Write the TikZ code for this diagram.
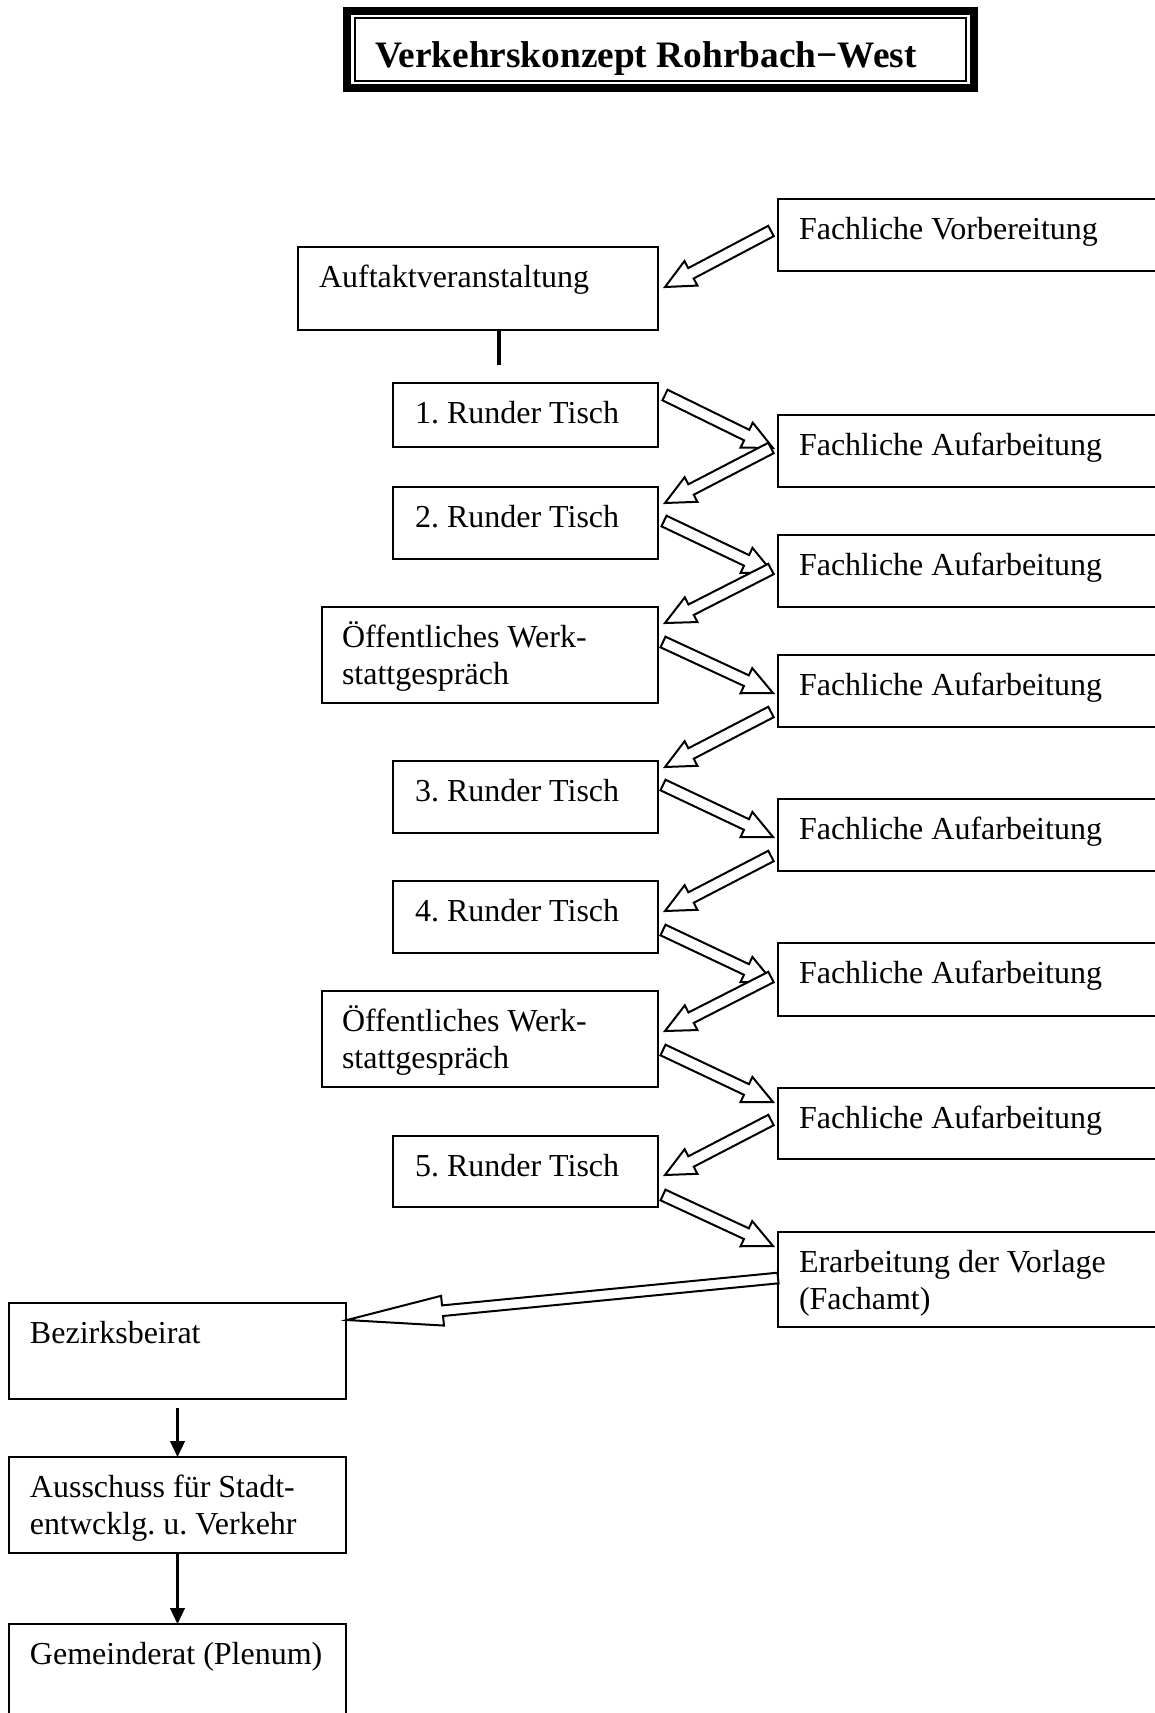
\documentclass[tikz,border=0pt]{standalone}
\usepackage{fontspec}
\setmainfont{Liberation Serif}
\usetikzlibrary{calc,fit,arrows.meta}
\frenchspacing
\tikzset{
  bx/.style={draw, line width=0.75pt, inner sep=0pt, outer sep=0pt, minimum size=0pt},
  tx/.style={inner sep=0pt, outer sep=0pt, anchor=base west, font=\fontsize{12pt}{13.8pt}\selectfont},
  blk/.style={draw, line width=0.75pt, fill=white, line join=miter},
  dn/.style={line width=0.9pt, -{Triangle[length=6pt,width=5.5pt]}},
  thickln/.style={line width=1.5pt},
}
\newcommand\mybox[5]{\node[bx, fit={(#2,#3) (#4,#5)}] (#1) {};}
% block arrow: tail, tip, half shaft, half head, head length
\newcommand\barrow[5]{%
  \coordinate (bh) at ($(#2)!#5!(#1)$);
  \draw[blk] ($(#1)!#3!90:(#2)$) -- ($(bh)!#3!-90:(#1)$) -- ($(bh)!#4!-90:(#1)$) -- (#2)
    -- ($(bh)!#4!90:(#1)$) -- ($(bh)!#3!90:(#1)$) -- ($(#1)!#3!-90:(#2)$) -- cycle;}
\begin{document}
\begin{tikzpicture}[x=0.375pt, y=-0.375pt]
\useasboundingbox (0,0) rectangle (1155,1713);
\clip (0,0) rectangle (1155,1713);

% title
\node[inner sep=0pt, outer sep=0pt, fit={(343,7) (978,92)}] (title) {};
\draw[line width=3pt] ($(title.north west)+(4,4)$) rectangle ($(title.south east)+(-4,-4)$);
\draw[line width=0.75pt] ($(title.north west)+(12,11)$) rectangle ($(title.south east)+(-12,-11)$);
\node[tx, font=\fontsize{14pt}{16pt}\selectfont\bfseries] (titlet) at ($(title.north west)+(32,60)$) {Verkehrskonzept Rohrbach−West};

% boxes
\mybox{fv}{778}{199}{1170}{271}
\mybox{auf}{298}{247}{658}{330}
\mybox{rt1}{393}{383}{658}{447}
\mybox{fa1}{778}{415}{1170}{487}
\mybox{rt2}{393}{487}{658}{559}
\mybox{fa2}{778}{535}{1170}{607}
\mybox{ow1}{322}{607}{658}{703}
\mybox{fa3}{778}{655}{1170}{727}
\mybox{rt3}{393}{761}{658}{833}
\mybox{fa4}{778}{799}{1170}{871}
\mybox{rt4}{393}{881}{658}{953}
\mybox{fa5}{778}{943}{1170}{1016}
\mybox{ow2}{322}{991}{658}{1087}
\mybox{fa6}{778}{1088}{1170}{1159}
\mybox{rt5}{393}{1136}{658}{1207}
\mybox{er}{778}{1232}{1170}{1327}
\mybox{bez}{9}{1303}{346}{1399}
\mybox{aus}{9}{1457}{346}{1553}
\mybox{gem}{9}{1624}{346}{1730}

% texts
\node[tx] (fvt) at ($(fv.north west)+(21,40)$) {Fachliche Vorbereitung};
\node[tx] (auft) at ($(auf.north west)+(21,40)$) {Auftaktveranstaltung};
\node[tx] (rt1t) at ($(rt1.north west)+(22,40)$) {1. Runder Tisch};
\node[tx] (fa1t) at ($(fa1.north west)+(21,40)$) {Fachliche Aufarbeitung};
\node[tx] (rt2t) at ($(rt2.north west)+(22,40)$) {2. Runder Tisch};
\node[tx] (fa2t) at ($(fa2.north west)+(21,40)$) {Fachliche Aufarbeitung};
\node[tx] (ow1a) at ($(ow1.north west)+(20,40)$) {Öffentliches Werk-};
\node[tx] (ow1b) at ($(ow1.north west)+(20,77)$) {stattgespräch};
\node[tx] (fa3t) at ($(fa3.north west)+(21,40)$) {Fachliche Aufarbeitung};
\node[tx] (rt3t) at ($(rt3.north west)+(22,40)$) {3. Runder Tisch};
\node[tx] (fa4t) at ($(fa4.north west)+(21,40)$) {Fachliche Aufarbeitung};
\node[tx] (rt4t) at ($(rt4.north west)+(22,40)$) {4. Runder Tisch};
\node[tx] (fa5t) at ($(fa5.north west)+(21,40)$) {Fachliche Aufarbeitung};
\node[tx] (ow2a) at ($(ow2.north west)+(20,40)$) {Öffentliches Werk-};
\node[tx] (ow2b) at ($(ow2.north west)+(20,77)$) {stattgespräch};
\node[tx] (fa6t) at ($(fa6.north west)+(21,40)$) {Fachliche Aufarbeitung};
\node[tx] (rt5t) at ($(rt5.north west)+(22,40)$) {5. Runder Tisch};
\node[tx] (era) at ($(er.north west)+(21,40)$) {Erarbeitung der Vorlage};
\node[tx] (erb) at ($(er.north west)+(21,77)$) {(Fachamt)};
\node[tx] (bezt) at ($(bez.north west)+(21,40)$) {Bezirksbeirat};
\node[tx] (ausa) at ($(aus.north west)+(21,40)$) {Ausschuss für Stadt-};
\node[tx] (ausb) at ($(aus.north west)+(21,77)$) {entwcklg. u. Verkehr};
\node[tx] (gemt) at ($(gem.north west)+(21,40)$) {Gemeinderat (Plenum)};

% short thick line below Auftakt
\coordinate (tl1) at ($(auf.south)+(21,0)$);
\coordinate (tl2) at ($(auf.south)+(21,35)$);
\draw[thickln] (tl1) -- (tl2);

% block arrow end points
\coordinate (a1s) at ($(fv.north west)+(-7,32)$);  \coordinate (a1e) at ($(auf.north east)+(7,40)$);
\coordinate (a2s) at ($(rt1.north east)+(7,12)$);  \coordinate (a2e) at ($(fa1.north west)+(-5,33)$);
\coordinate (a3s) at ($(fa1.north west)+(-7,33)$); \coordinate (a3e) at ($(rt2.north east)+(7,16)$);
\coordinate (a4s) at ($(rt2.north east)+(6,34)$);  \coordinate (a4e) at ($(fa2.north west)+(-5,38)$);
\coordinate (a5s) at ($(fa2.north west)+(-7,34)$); \coordinate (a5e) at ($(ow1.north east)+(7,16)$);
\coordinate (a6s) at ($(ow1.north east)+(5,35)$);  \coordinate (a6e) at ($(fa3.north west)+(-5,38)$);
\coordinate (a7s) at ($(fa3.north west)+(-7,57)$); \coordinate (a7e) at ($(rt3.north east)+(7,6)$);
\coordinate (a8s) at ($(rt3.north east)+(5,24)$);  \coordinate (a8e) at ($(fa4.north west)+(-5,38)$);
\coordinate (a9s) at ($(fa4.north west)+(-7,57)$); \coordinate (a9e) at ($(rt4.north east)+(7,30)$);
\coordinate (a10s) at ($(rt4.north east)+(5,49)$); \coordinate (a10e) at ($(fa5.north west)+(-5,39)$);
\coordinate (a11s) at ($(fa5.north west)+(-7,34)$); \coordinate (a11e) at ($(ow2.north east)+(7,40)$);
\coordinate (a12s) at ($(ow2.north east)+(5,59)$); \coordinate (a12e) at ($(fa6.north west)+(-5,14)$);
\coordinate (a13s) at ($(fa6.north west)+(-7,32)$); \coordinate (a13e) at ($(rt5.north east)+(7,39)$);
\coordinate (a14s) at ($(rt5.north east)+(5,59)$); \coordinate (a14e) at ($(er.north west)+(-5,14)$);
\coordinate (a15s) at ($(er.north west)+(0,46)$);  \coordinate (a15e) at ($(bez.north east)+(1,17)$);

\foreach \i in {1,...,14}{\barrow{a\i s}{a\i e}{2.2pt}{5.2pt}{11pt}}
\barrow{a15s}{a15e}{2.0pt}{5.6pt}{36pt}

% down arrows
\coordinate (d1s) at ($(bez.south)+(0,9)$);
\draw[dn] (d1s) -- (aus.north);
\draw[dn] (aus.south) -- (gem.north);
\end{tikzpicture}
\end{document}
